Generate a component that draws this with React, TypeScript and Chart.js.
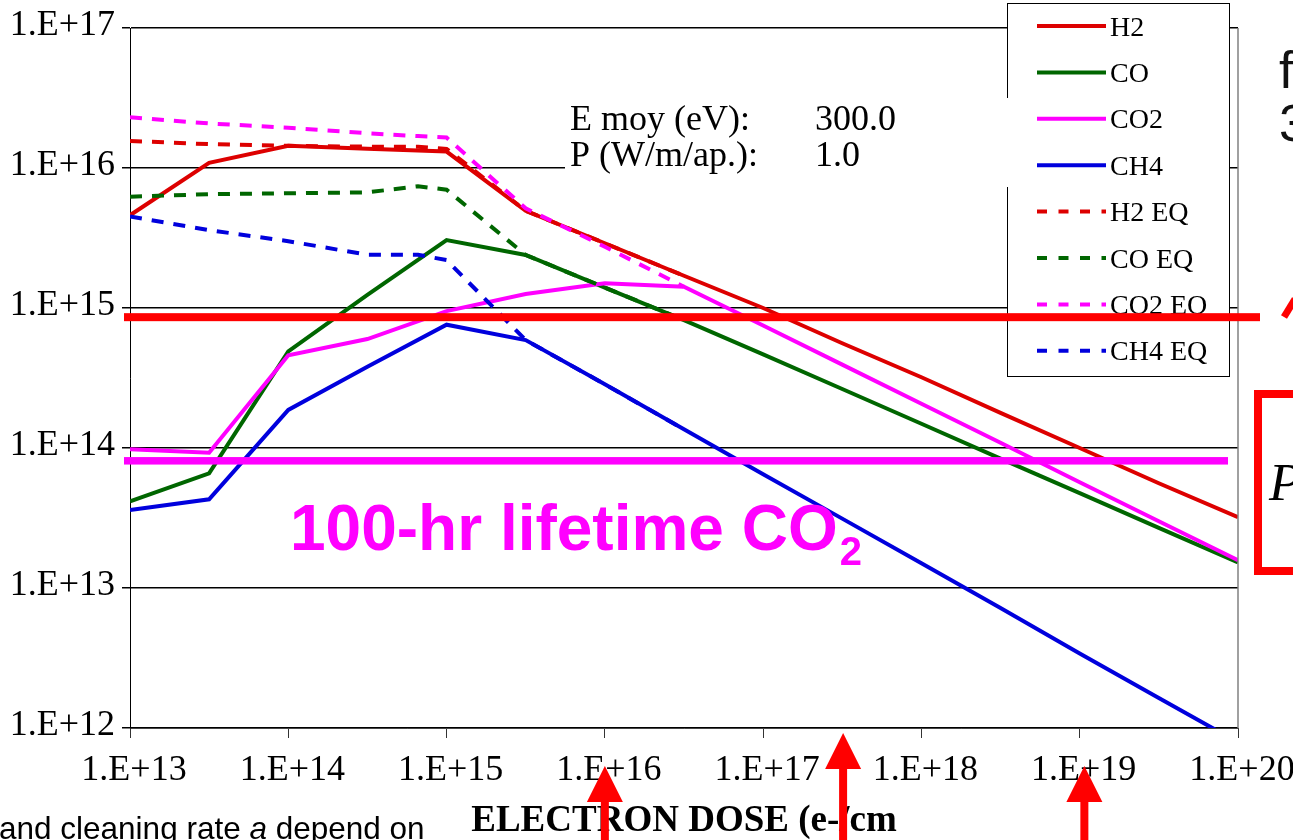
import React, { useEffect, useRef } from 'react';
import { Chart, registerables } from 'chart.js';

Chart.register(...registerables);

const SERIF = '"Liberation Serif", "Times New Roman", serif';
const SANS = '"Liberation Sans", Arial, sans-serif';

// Electron dose (e-/cm2) sample points
const DOSE = [1e13, 3.16e13, 1e14, 3.16e14, 1e15, 3.16e15, 1e16, 3.16e16, 1e17, 3.16e17, 1e18, 3.16e18, 1e19, 3.16e19, 1e20];
const H2 = [4.6e15, 1.09e16, 1.44e16, 1.37e16, 1.31e16, 4.95e15, 2.9e15, 1.7e15, 1.0e15, 5.6e14, 3.2e14, 1.78e14, 1.0e14, 5.6e13, 3.2e13];
const CO = [4.16e13, 6.6e13, 4.9e14, 1.24e15, 3.06e15, 2.39e15, 1.4e15, 8.2e14, 4.67e14, 2.64e14, 1.49e14, 8.4e13, 4.76e13, 2.69e13, 1.52e13];
const CO2 = [9.8e13, 9.25e13, 4.6e14, 6.0e14, 9.5e14, 1.26e15, 1.5e15, 1.42e15, 7.5e14, 3.94e14, 2.07e14, 1.09e14, 5.7e13, 3.0e13, 1.58e13];
const CH4 = [3.6e13, 4.3e13, 1.87e14, 3.8e14, 7.6e14, 5.9e14, 2.85e14, 1.36e14, 6.5e13, 3.13e13, 1.5e13, 7.2e12, 3.4e12, 1.64e12, 7.9e11];

// Equilibrium curves (dashed)
const EQ_DOSE = [1e13, 3.16e13, 1e14, 3.16e14, 6.6e14, 1e15, 3.16e15, 1e16, 3.16e16];
const H2_EQ = [1.56e16, 1.48e16, 1.44e16, 1.42e16, 1.42e16, 1.37e16, 4.95e15, 2.9e15, 1.7e15];
const CO_EQ = [6.24e15, 6.5e15, 6.6e15, 6.7e15, 7.4e15, 7.0e15, 2.39e15, 1.4e15, 8.2e14];
const CO2_EQ = [2.3e16, 2.08e16, 1.94e16, 1.77e16, 1.69e16, 1.65e16, 5.15e15, 2.74e15, 1.42e15];
const CH4_EQ = [4.5e15, 3.6e15, 3.0e15, 2.4e15, 2.4e15, 2.2e15, 5.9e14, 2.85e14, 1.36e14];

const SERIES_NAMES = ['H2', 'CO', 'CO2', 'CH4', 'H2 EQ', 'CO EQ', 'CO2 EQ', 'CH4 EQ'];
const SERIES_COLORS = ['#DD0000', '#006600', '#FF00FF', '#0000DD', '#DD0000', '#006600', '#FF00FF', '#0000DD'];

const X_TICKS = [1e13, 1e14, 1e15, 1e16, 1e17, 1e18, 1e19, 1e20];
const Y_TICKS = [1e12, 1e13, 1e14, 1e15, 1e16, 1e17];

// Annotation levels / positions (data units)
const LIMIT_RED = 8.6e14;
const LIMIT_MAGENTA = 8.1e13;
const ARROW_DOSES = [1e16, 3.2e17, 1.07e19];

const fmt = (v: number) => '1.E+' + Math.round(Math.log10(v));

const pts = (xs: number[], ys: number[]) => ys.map((y, i) => ({ x: xs[i], y }));

const overlayPlugin = {
  id: 'slideOverlay',
  afterDraw(chart: any) {
    const ctx = chart.ctx as CanvasRenderingContext2D;
    const { top, bottom, right } = chart.chartArea;
    const xs = chart.scales.x;
    const ys = chart.scales.y;
    ctx.save();

    // plot area right border
    ctx.strokeStyle = '#808080';
    ctx.lineWidth = 1.5;
    ctx.beginPath();
    ctx.moveTo(right, top);
    ctx.lineTo(right, bottom);
    ctx.stroke();

    // legend box
    ctx.fillStyle = '#fff';
    ctx.fillRect(1007, 3, 222, 373);
    ctx.strokeStyle = '#000';
    ctx.lineWidth = 1;
    ctx.strokeRect(1007.5, 3.5, 222, 373);
    chart.data.datasets.forEach((ds: any, i: number) => {
      const cy = 26 + i * 46.4;
      ctx.strokeStyle = ds.borderColor;
      ctx.lineWidth = 4;
      ctx.lineCap = 'butt';
      ctx.setLineDash(ds.borderDash && ds.borderDash.length ? [10, 11.5] : []);
      ctx.beginPath();
      ctx.moveTo(1037, cy);
      ctx.lineTo(1106, cy);
      ctx.stroke();
      ctx.setLineDash([]);
      ctx.fillStyle = '#000';
      ctx.font = `28px ${SERIF}`;
      ctx.textAlign = 'left';
      ctx.textBaseline = 'alphabetic';
      ctx.fillText(ds.label, 1110, cy + 9.5);
    });

    // parameter text box
    ctx.fillStyle = '#fff';
    ctx.fillRect(565, 98, 460, 89);
    ctx.fillStyle = '#000';
    ctx.font = `36px ${SERIF}`;
    ctx.fillText('E moy (eV):', 570, 130);
    ctx.fillText('300.0', 815, 130);
    ctx.fillText('P (W/m/ap.):', 570, 166);
    ctx.fillText('1.0', 815, 166);

    // threshold lines
    const yr = ys.getPixelForValue(LIMIT_RED);
    ctx.fillStyle = '#FF0000';
    ctx.fillRect(124, yr - 4, 1260 - 124, 8);
    const ym = ys.getPixelForValue(LIMIT_MAGENTA);
    ctx.fillStyle = '#FF00FF';
    ctx.fillRect(124, ym - 3.75, 1228 - 124, 7.5);

    // magenta label
    ctx.font = `bold 64px ${SANS}`;
    ctx.fillText('100-hr lifetime CO', 290, 550);
    const w = ctx.measureText('100-hr lifetime CO').width;
    ctx.font = `bold 40px ${SANS}`;
    ctx.fillText('2', 290 + w + 2, 565);

    // right-hand fragments of slide text
    ctx.fillStyle = '#111';
    ctx.font = `52px ${SANS}`;
    ctx.fillText('f', 1279, 88);
    ctx.fillText('3', 1279, 141);
    // clipped red stroke fragment
    ctx.strokeStyle = '#FF0000';
    ctx.lineWidth = 7;
    ctx.lineCap = 'butt';
    ctx.beginPath();
    ctx.moveTo(1284, 317);
    ctx.lineTo(1295, 299);
    ctx.stroke();
    ctx.lineWidth = 8;
    ctx.strokeRect(1258, 394, 120, 177);
    ctx.fillStyle = '#000';
    ctx.font = `italic 53px ${SERIF}`;
    ctx.fillText('P', 1269, 500);

    // bottom-left caption fragment
    ctx.font = `31.5px ${SANS}`;
    let cx = -1;
    const part1 = 'and cleaning rate ';
    ctx.fillText(part1, cx, 839);
    cx += ctx.measureText(part1).width;
    ctx.font = `italic 31.5px ${SANS}`;
    ctx.fillText('a', cx, 839);
    cx += ctx.measureText('a').width;
    ctx.font = `31.5px ${SANS}`;
    ctx.fillText(' depend on', cx, 839);

    // red arrows
    ctx.fillStyle = '#FF0000';
    const arrowTips = [766, 733, 766];
    ARROW_DOSES.forEach((d, i) => {
      const ax = xs.getPixelForValue(d);
      const tip = arrowTips[i];
      const base = tip + 36;
      ctx.beginPath();
      ctx.moveTo(ax, tip);
      ctx.lineTo(ax + 18, base);
      ctx.lineTo(ax - 18, base);
      ctx.closePath();
      ctx.fill();
      ctx.fillRect(ax - 4, base - 1, 8, 845 - base);
    });

    ctx.restore();
  },
};

export default function App() {
  const ref = useRef<HTMLCanvasElement | null>(null);

  useEffect(() => {
    if (!ref.current) return;
    const solid = [H2, CO, CO2, CH4];
    const eq = [H2_EQ, CO_EQ, CO2_EQ, CH4_EQ];
    const datasets: any[] = [];
    solid.forEach((s, i) => {
      datasets.push({
        label: SERIES_NAMES[i],
        data: pts(DOSE, s),
        borderColor: SERIES_COLORS[i],
        backgroundColor: SERIES_COLORS[i],
        borderWidth: 4,
        pointRadius: 0,
        tension: 0,
        clip: 0,
        order: 20 - i,
      });
    });
    eq.forEach((s, i) => {
      datasets.push({
        label: SERIES_NAMES[i + 4],
        data: pts(EQ_DOSE, s),
        borderColor: SERIES_COLORS[i + 4],
        backgroundColor: SERIES_COLORS[i + 4],
        borderWidth: 4,
        borderDash: [12, 10],
        pointRadius: 0,
        tension: 0,
        clip: 0,
        order: 16 - i,
      });
    });

    const chart = new Chart(ref.current, {
      type: 'line',
      data: { datasets },
      options: {
        animation: false,
        responsive: false,
        devicePixelRatio: 1,
        layout: { padding: { top: 28, right: 55, left: 0, bottom: 0 } },
        plugins: { legend: { display: false }, tooltip: { enabled: false }, title: { display: false } },
        scales: {
          x: {
            type: 'logarithmic',
            position: 'bottom',
            min: 1e13,
            max: 1e20,
            afterBuildTicks: (s: any) => {
              s.ticks = X_TICKS.map((v) => ({ value: v }));
            },
            afterFit: (s: any) => {
              s.height = 112;
              s.paddingLeft = 0;
              s.paddingRight = 0;
            },
            ticks: {
              callback: (v: any) => fmt(Number(v)),
              font: { family: SERIF, size: 36 },
              color: '#000',
              padding: 11,
              labelOffset: 4,
              maxRotation: 0,
              minRotation: 0,
              autoSkip: false,
            },
            grid: { drawOnChartArea: false, drawTicks: true, tickLength: 10, color: '#333', lineWidth: 1 },
            border: { display: true, color: '#444', width: 1 },
            title: {
              display: true,
              text: 'ELECTRON DOSE (e-/cm',
              color: '#000',
              font: { family: SERIF, size: 37, weight: 'bold', lineHeight: 1.0 },
              padding: { top: 0, bottom: 0 },
            },
          },
          y: {
            type: 'logarithmic',
            position: 'left',
            min: 1e12,
            max: 1e17,
            afterBuildTicks: (s: any) => {
              s.ticks = Y_TICKS.map((v) => ({ value: v }));
            },
            afterFit: (s: any) => {
              s.width = 130;
              s.paddingTop = 0;
              s.paddingBottom = 0;
            },
            ticks: {
              callback: (v: any) => fmt(Number(v)),
              font: { family: SERIF, size: 36 },
              color: '#000',
              padding: 7,
              labelOffset: -2,
              autoSkip: false,
            },
            grid: { color: '#000', lineWidth: 1.5, drawTicks: true, tickLength: 8 },
            border: { display: true, color: '#000', width: 1 },
          },
        },
      } as any,
      plugins: [overlayPlugin],
    });
    return () => chart.destroy();
  }, []);

  return (
    <div style={{ position: 'fixed', left: 0, top: 0, width: 1293, height: 840, background: '#fff' }}>
      <canvas ref={ref} width={1293} height={840} style={{ width: 1293, height: 840, display: 'block' }} />
    </div>
  );
}
